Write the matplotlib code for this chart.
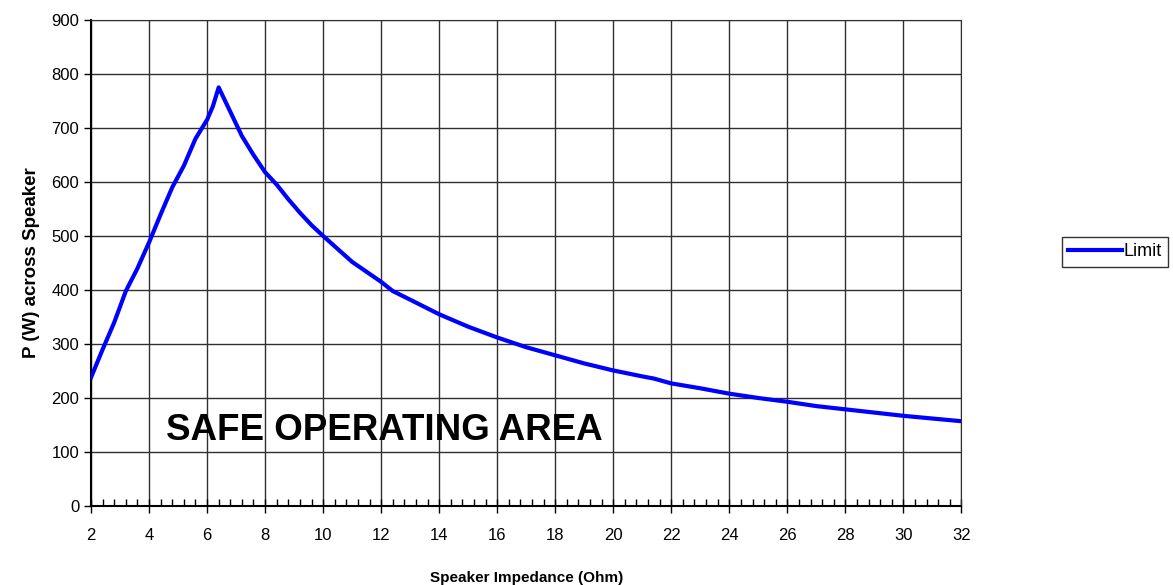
import numpy as np
import matplotlib.pyplot as plt
from matplotlib.ticker import MultipleLocator

plt.rcParams['font.family'] = ['Liberation Sans', 'DejaVu Sans']

# speaker impedance (Ohm) and power limit (W)
imp = [2.0, 2.4, 2.8, 3.2, 3.6, 4.0, 4.4, 4.8, 5.2, 5.6, 6.0, 6.2, 6.4,
       6.8, 7.2, 7.6, 8.0, 8.4, 8.8, 9.2, 9.6, 10.0, 11.0, 12.0, 12.4,
       13.0, 14.0, 15.0, 16.0, 17.0, 18.0, 19.0, 20.0, 21.0, 21.4, 22.0,
       23.0, 24.0, 25.0, 26.0, 27.0, 28.0, 29.0, 30.0, 31.0, 32.0]
power = [238, 290, 340, 398, 440, 488, 540, 590, 630, 680, 715, 740, 775,
         730, 685, 650, 618, 595, 568, 543, 520, 500, 452, 415, 398,
         382, 355, 332, 312, 294, 279, 264, 251, 240, 236, 227,
         218, 208, 200, 193, 185, 179, 173, 167, 162, 157]

fig = plt.figure(figsize=(11.73, 5.85), dpi=100)
ax = fig.add_axes([0.0776, 0.135, 0.742, 0.831])

ax.plot(imp, power, color='#0000ff', lw=3, label='Limit', zorder=3)

ax.set_xlim(2, 32)
ax.set_ylim(0, 900)
ax.xaxis.set_major_locator(MultipleLocator(2))
ax.xaxis.set_minor_locator(MultipleLocator(0.4))
ax.yaxis.set_major_locator(MultipleLocator(100))
ax.grid(True, which='major', color='#303030', lw=1)
ax.set_axisbelow(True)
ax.tick_params(axis='x', which='major', direction='inout', length=10, width=1,
               labelsize=12, pad=11)
ax.tick_params(axis='x', which='minor', direction='in', length=5, width=1)
ax.tick_params(axis='y', which='major', direction='out', length=5, width=1, labelsize=12)
for s in ['top', 'right']:
    ax.spines[s].set_color('#303030')
for s in ['left', 'bottom']:
    ax.spines[s].set_linewidth(1.5)

ax.set_xlabel('Speaker Impedance (Ohm)', fontsize=11, fontweight='bold', labelpad=20)
ax.set_ylabel('P (W) across Speaker', fontsize=13.5, fontweight='bold', labelpad=8)

ax.text(12.1, 140, 'SAFE OPERATING AREA', fontsize=26.5, fontweight='bold',
        ha='center', va='center', zorder=4)

leg = fig.legend(loc='center left', bbox_to_anchor=(0.905, 1 - 252 / 585),
                 fontsize=13, frameon=True, fancybox=False, handlelength=3,
                 handletextpad=0.1, borderpad=0.35, borderaxespad=0)
leg.get_frame().set_edgecolor('black')
leg.get_frame().set_linewidth(1)

fig.savefig('out.png', dpi=100)
